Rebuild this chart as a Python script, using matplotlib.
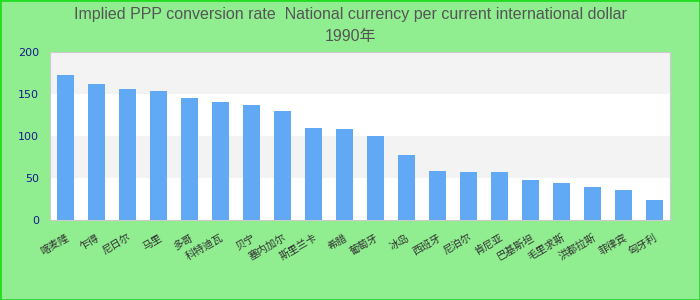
import matplotlib
matplotlib.use("Agg")
import matplotlib.pyplot as plt
from matplotlib.patches import Rectangle

# Data
countries = ["喀麦隆", "乍得", "尼日尔", "马里", "多哥", "科特迪瓦", "贝宁",
             "塞内加尔", "斯里兰卡", "希腊", "葡萄牙", "冰岛", "西班牙", "尼泊尔",
             "肯尼亚", "巴基斯坦", "毛里求斯", "洪都拉斯", "菲律宾", "匈牙利"]
values = [172, 161.5, 155.5, 153, 145, 140, 136.5, 129.5, 109, 108,
          100, 77, 58, 57, 57, 47.5, 44, 39, 35.5, 24]
yticks = [0, 50, 100, 150, 200]

title = "Implied PPP conversion rate  National currency per current international dollar\n1990年"

plt.rcParams['font.family'] = ['Liberation Sans', 'Noto Sans CJK SC', 'DejaVu Sans']

fig = plt.figure(figsize=(7, 3), dpi=100, facecolor="#90ee90")
ax = fig.add_axes([0.0714, 0.2667, 0.8857, 0.561])

# alternating bands
for i in range(len(yticks) - 1):
    ax.axhspan(yticks[i], yticks[i + 1],
               color="#ffffff" if i % 2 == 0 else "#f3f3f3", zorder=0, lw=0)

x = list(range(len(countries)))
ax.bar(x, values, width=0.55, color="#61a8f5", zorder=2)

ax.set_xlim(-0.5, len(countries) - 0.5)
ax.set_ylim(0, 200)
ax.set_yticks(yticks)
ax.set_yticklabels([str(t) for t in yticks], color="#1a1a8c", fontsize=8,
                   family="DejaVu Sans")
ax.set_xticks(x)
ax.set_xticklabels(countries, rotation=30, ha="right", rotation_mode="anchor",
                   fontsize=7.5, color="#333333",
                   family=["Noto Sans CJK SC", "DejaVu Sans"])
ax.tick_params(length=0)
ax.tick_params(axis="y", pad=8)
ax.tick_params(axis="x", pad=9)
for s in ax.spines.values():
    s.set_color("#cccccc")

fig.text(0.5, 0.978, title, ha="center", va="top", fontsize=11.5,
         color="#555555", linespacing=1.6)

fig.patches.append(Rectangle((0, 0), 1, 1, transform=fig.transFigure,
                             fill=False, edgecolor="#22dd22", lw=2))

fig.savefig("out.png", dpi=100, facecolor=fig.get_facecolor())
